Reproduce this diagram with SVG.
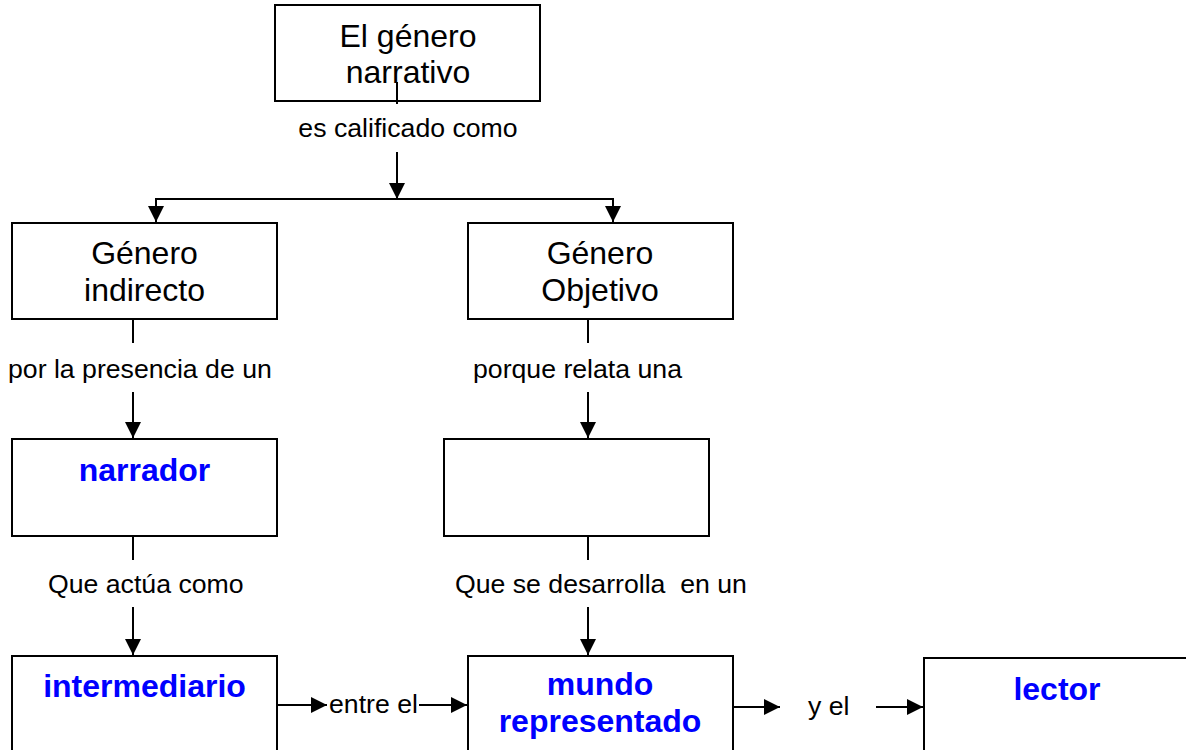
<svg xmlns="http://www.w3.org/2000/svg" width="1186" height="750" viewBox="0 0 1186 750">
<style>
.box{fill:#fff;stroke:#000;stroke-width:2}
.t{font-family:"Liberation Sans",Arial,sans-serif;font-size:32px;fill:#000;text-anchor:middle}
.b{font-family:"Liberation Sans",Arial,sans-serif;font-size:32px;font-weight:bold;fill:#0000ff;text-anchor:middle}
.l{font-family:"Liberation Sans",Arial,sans-serif;font-size:26.67px;fill:#000;white-space:pre}
.c{fill:none;stroke:#000;stroke-width:2}
</style>
<defs>
<marker id="ah" markerUnits="userSpaceOnUse" markerWidth="17" markerHeight="17" refX="16" refY="8" orient="auto">
<path d="M0,0 L16,8 L0,16 Z" fill="#000"/>
</marker>
</defs>
<rect width="1186" height="750" fill="#fff"/>
<g id="n-genero-narrativo">
<rect class="box" x="275" y="5" width="265" height="96"/>
<text class="t" x="408" y="47">El género</text>
<text class="t" x="408" y="83">narrativo</text>
</g>
<g id="n-genero-indirecto">
<rect class="box" x="12" y="223" width="265" height="96"/>
<text class="t" x="144.5" y="264">Género</text>
<text class="t" x="144.5" y="301">indirecto</text>
</g>
<g id="n-genero-objetivo">
<rect class="box" x="468" y="223" width="265" height="96"/>
<text class="t" x="600" y="264">Género</text>
<text class="t" x="600" y="301">Objetivo</text>
</g>
<g id="n-narrador">
<rect class="box" x="12" y="439" width="265" height="97"/>
<text class="b" x="144.5" y="481">narrador</text>
</g>
<g id="n-vacio">
<rect class="box" x="444" y="439" width="265" height="97"/>
</g>
<g id="n-intermediario">
<rect class="box" x="12" y="656" width="265" height="110"/>
<text class="b" x="144.5" y="697">intermediario</text>
</g>
<g id="n-mundo">
<rect class="box" x="468" y="656" width="265" height="110"/>
<text class="b" x="600" y="695">mundo</text>
<text class="b" x="600" y="732">representado</text>
</g>
<g id="n-lector">
<rect class="box" x="924" y="658" width="265" height="110"/>
<text class="b" x="1057" y="700">lector</text>
</g>
<g id="connectors">
<line class="c" x1="397" y1="82" x2="397" y2="104"/>
<text class="l" x="408" y="137" text-anchor="middle">es calificado como</text>
<line class="c" x1="397" y1="152" x2="397" y2="199" marker-end="url(#ah)"/>
<line class="c" x1="155" y1="199" x2="614" y2="199"/>
<line class="c" x1="156" y1="199" x2="156" y2="222" marker-end="url(#ah)"/>
<line class="c" x1="613" y1="199" x2="613" y2="222" marker-end="url(#ah)"/>
<line class="c" x1="133" y1="319" x2="133" y2="343"/>
<text class="l" x="8" y="378">por la presencia de un</text>
<line class="c" x1="133" y1="392" x2="133" y2="438" marker-end="url(#ah)"/>
<line class="c" x1="588" y1="319" x2="588" y2="343"/>
<text class="l" x="473" y="378">porque relata una</text>
<line class="c" x1="588" y1="392" x2="588" y2="438" marker-end="url(#ah)"/>
<line class="c" x1="133" y1="536" x2="133" y2="560"/>
<text class="l" x="48" y="593">Que actúa como</text>
<line class="c" x1="133" y1="607" x2="133" y2="655" marker-end="url(#ah)"/>
<line class="c" x1="588" y1="536" x2="588" y2="560"/>
<text class="l" x="455" y="593">Que se desarrolla  en un</text>
<line class="c" x1="588" y1="607" x2="588" y2="655" marker-end="url(#ah)"/>
<line class="c" x1="277" y1="705" x2="327" y2="705" marker-end="url(#ah)"/>
<text class="l" x="329" y="713">entre el</text>
<line class="c" x1="419" y1="705" x2="467" y2="705" marker-end="url(#ah)"/>
<line class="c" x1="733" y1="707" x2="780" y2="707" marker-end="url(#ah)"/>
<text class="l" x="808" y="715">y el</text>
<line class="c" x1="876" y1="707" x2="923" y2="707" marker-end="url(#ah)"/>
</g>
</svg>
